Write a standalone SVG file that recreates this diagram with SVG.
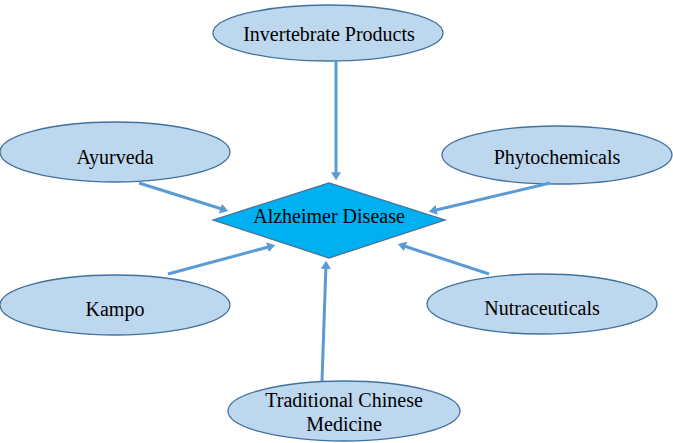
<svg xmlns="http://www.w3.org/2000/svg" width="673" height="443" viewBox="0 0 673 443">
<style>
.n ellipse{fill:#BDD7EE;stroke:#41719C;stroke-width:1.3}
text{font-family:"Liberation Serif","Times New Roman",serif;font-size:20px;fill:#000;text-anchor:middle}
.c line{stroke:#5B9BD5;stroke-width:3}
</style>
<defs>
<marker id="ah" markerWidth="3" markerHeight="3.4" refX="1.6" refY="1.7" orient="auto" markerUnits="strokeWidth">
<path d="M0,0 L2.7,1.7 L0,3.4 Z" fill="#5B9BD5"/>
</marker>
</defs>
<g id="center">
<polygon points="213,220 329,183 445,220 329,258" fill="#00B0F0" stroke="#4A6F91" stroke-width="1.3"/>
<text x="329" y="223">Alzheimer Disease</text>
</g>
<g id="invertebrate" class="n"><ellipse cx="328" cy="33" rx="115" ry="28"/><text x="329" y="41">Invertebrate Products</text></g>
<g id="ayurveda" class="n"><ellipse cx="115" cy="152" rx="115" ry="30"/><text x="115" y="164">Ayurveda</text></g>
<g id="phyto" class="n"><ellipse cx="557" cy="155" rx="115" ry="29"/><text x="557" y="164">Phytochemicals</text></g>
<g id="kampo" class="n"><ellipse cx="115" cy="305" rx="115" ry="30"/><text x="115" y="316">Kampo</text></g>
<g id="nutra" class="n"><ellipse cx="542" cy="304" rx="115" ry="30"/><text x="542" y="315">Nutraceuticals</text></g>
<g id="tcm" class="n"><ellipse cx="344" cy="411" rx="116" ry="30"/><text x="344" y="407">Traditional Chinese</text><text x="344" y="431">Medicine</text></g>
<g id="connectors" class="c">
<line x1="336" y1="61" x2="336" y2="177" marker-end="url(#ah)"/>
<line x1="139" y1="183" x2="225" y2="210" marker-end="url(#ah)"/>
<line x1="550" y1="183" x2="432" y2="211" marker-end="url(#ah)"/>
<line x1="168" y1="274" x2="272" y2="246" marker-end="url(#ah)"/>
<line x1="489" y1="274" x2="401" y2="245" marker-end="url(#ah)"/>
<line x1="322" y1="381" x2="326" y2="264" marker-end="url(#ah)"/>
</g>
</svg>
